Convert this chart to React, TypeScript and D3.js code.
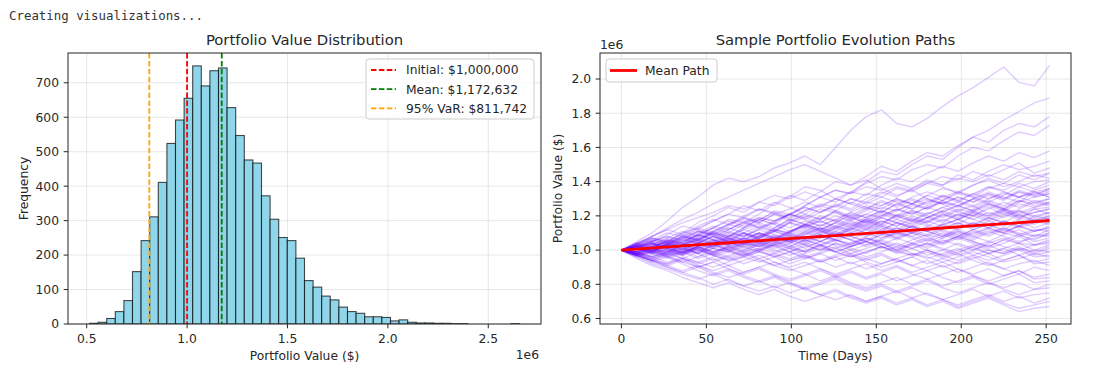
import React from "react";
import * as d3 from "d3";

// ---------- Histogram data ----------
const HIST_MIN = 514000;
const HIST_MAX = 2655500;
const HIST_COUNTS = [2,5,16,36,68,152,242,311,411,524,592,655,749,691,735,743,628,547,476,467,372,304,251,242,191,126,107,81,70,49,36,31,21,21,19,9,12,5,3,3,2,2,1,1,0,0,0,0,0,1];
const HIST_XTICKS = [0.5, 1.0, 1.5, 2.0, 2.5];
const HIST_YTICKS = [0, 100, 200, 300, 400, 500, 600, 700];
const REF_LINES = [
  { label: "Initial: $1,000,000", value: 1000000, color: "#ff0000" },
  { label: "Mean: $1,172,632", value: 1172632, color: "#008000" },
  { label: "95% VaR: $811,742", value: 811742, color: "#ffa500" },
];

// ---------- Paths data (percent of initial value) ----------
const PATH_DAYS = [0,9,18,27,36,45,54,63,72,81,90,99,108,117,126,135,144,153,162,171,180,189,198,207,216,225,234,243,252];
const PATHS: number[][] = [
  [100,105,110,117,125,131,138,142,140,143,148,151,155,150,160,170,178,182,174,172,177,184,190,195,201,207,198,196,208],
  [100,102,99,104,108,106,111,115,113,118,122,120,126,131,135,133,140,146,144,150,155,153,160,166,170,176,181,186,189],
  [100,97,101,106,104,109,113,118,116,121,127,132,129,134,140,138,143,149,146,152,157,155,161,166,163,170,174,172,178],
  [100,103,107,105,110,116,120,125,122,128,126,131,137,135,130,134,139,143,141,147,150,148,155,160,158,164,169,167,173],
  [100,98,103,101,106,111,109,114,119,117,123,121,126,131,128,134,132,138,142,140,145,149,146,151,155,152,157,154,158],
  [100,104,101,97,100,105,110,108,113,118,115,121,125,122,127,124,130,134,131,136,140,138,144,141,146,150,147,149,152],
  [100,101,105,109,114,112,117,121,119,124,122,118,123,127,125,130,128,133,137,135,139,143,141,146,143,147,151,145,148],
  [100,96,99,103,100,96,101,105,109,107,112,110,115,119,117,122,126,124,129,127,132,136,134,138,142,139,144,141,145],
  [100,103,106,110,108,113,117,121,126,123,128,125,121,126,130,127,133,131,136,134,139,137,133,138,141,137,140,144,142],
  [100,98,95,99,103,107,105,110,108,113,111,116,114,118,122,119,124,128,125,129,126,131,134,132,137,135,139,136,140],
  [100,102,105,103,108,106,111,115,119,116,121,124,128,125,130,127,124,129,126,131,134,131,128,133,137,134,131,135,138],
  [100,99,102,99,103,106,104,108,112,109,106,110,114,117,113,118,121,119,123,127,124,129,126,130,133,130,134,132,136],
  [100,101,98,102,105,109,113,110,115,119,117,121,118,122,126,130,127,131,128,124,128,132,129,133,130,134,131,133,135],
  [100,103,100,104,108,105,102,106,110,114,111,116,119,116,120,117,121,125,123,127,130,127,131,128,132,129,134,131,133],
  [100,97,100,104,102,98,102,106,104,108,112,109,113,117,114,119,116,120,124,121,125,128,126,130,127,124,128,134,131],
  [100,102,106,103,107,111,108,104,108,112,116,113,117,114,118,122,119,123,120,117,121,125,128,125,129,126,131,128,130],
  [100,99,96,100,97,101,105,109,106,110,107,111,115,112,116,120,117,121,118,122,119,123,126,123,127,124,129,126,128],
  [100,104,108,112,109,114,118,115,120,124,121,117,121,118,123,119,116,120,124,121,125,122,126,123,127,124,122,125,127],
  [100,98,101,105,103,107,104,101,105,102,106,110,107,111,108,113,117,114,118,115,119,122,119,123,120,124,121,124,125],
  [100,101,104,101,98,102,106,103,107,110,107,111,114,111,108,112,115,119,116,120,117,121,118,122,119,123,120,122,124],
  [100,102,99,103,107,104,108,112,116,113,117,121,118,114,118,115,119,116,120,123,120,117,121,118,122,119,123,120,122],
  [100,97,94,98,95,99,103,100,104,108,105,109,106,110,114,111,115,112,116,113,117,114,118,121,118,122,119,117,120],
  [100,103,107,104,101,105,102,106,103,107,111,108,112,109,113,116,113,117,114,118,115,112,116,113,117,114,118,115,119],
  [100,99,103,107,111,108,113,117,114,118,115,111,115,112,108,112,116,113,110,114,111,115,118,115,119,116,113,116,117],
  [100,101,98,95,98,102,99,103,100,104,108,105,109,112,109,113,110,114,111,108,112,115,112,116,113,117,114,118,116],
  [100,102,105,108,105,109,106,103,107,104,108,105,101,105,109,106,110,107,111,114,111,108,112,109,113,110,114,111,114],
  [100,98,101,98,102,99,103,107,104,100,104,108,105,109,106,102,106,110,107,111,108,104,108,112,109,113,110,108,112],
  [100,103,100,104,108,112,109,113,110,106,103,107,104,108,105,109,112,109,113,110,106,110,107,111,108,112,109,106,110],
  [100,97,100,96,99,95,98,102,99,103,107,104,108,105,109,106,102,106,110,107,103,107,110,107,111,108,105,107,109],
  [100,101,104,100,97,101,98,102,105,102,106,103,99,103,106,103,107,104,100,104,107,104,108,105,102,106,109,105,107],
  [100,102,99,102,98,101,104,100,97,100,96,99,103,100,104,101,98,102,99,103,106,103,107,104,101,104,108,103,105],
  [100,98,95,98,101,98,94,97,100,103,99,102,106,103,99,102,105,101,104,101,97,100,104,101,98,101,104,100,103],
  [100,99,102,105,102,106,109,105,101,104,100,97,100,103,99,102,105,102,98,101,104,100,97,100,103,99,102,98,101],
  [100,102,105,101,98,101,97,94,97,100,103,99,96,99,102,98,101,104,100,97,100,96,99,102,98,101,97,100,99],
  [100,97,99,96,93,96,99,102,99,95,98,101,97,94,97,100,96,99,102,98,95,98,101,97,94,97,100,96,97],
  [100,101,98,101,104,101,97,100,96,93,96,99,95,98,101,97,94,97,93,96,99,95,92,95,98,94,97,93,95],
  [100,98,96,93,96,93,90,93,96,99,96,92,95,98,94,97,93,90,93,96,92,95,98,94,91,94,97,92,93],
  [100,102,99,96,99,102,98,95,98,94,91,94,97,93,96,92,95,98,94,91,94,90,93,96,92,89,92,94,91],
  [100,97,94,97,93,90,93,96,92,95,91,88,91,94,90,93,89,92,95,91,88,91,87,90,93,89,86,90,88],
  [100,99,96,99,95,92,95,91,94,97,93,90,93,89,86,89,92,88,91,87,90,93,89,86,89,85,88,84,86],
  [100,98,95,92,95,91,88,91,87,90,93,89,86,89,85,88,84,87,90,86,83,86,89,85,82,85,88,83,84],
  [100,97,94,91,94,90,93,89,86,89,85,82,85,88,84,87,83,86,82,85,88,84,81,84,80,83,86,81,82],
  [100,98,94,91,88,91,87,84,87,90,86,83,86,82,85,81,78,81,84,80,83,79,82,85,81,78,81,77,80],
  [100,96,93,90,87,90,86,89,85,82,85,81,78,81,84,80,77,80,76,79,82,78,75,78,81,77,74,77,78],
  [100,97,93,96,92,88,85,88,84,81,84,80,77,80,83,79,76,79,75,78,74,71,74,77,73,76,72,74,75],
  [100,96,92,89,86,83,86,82,79,82,78,81,77,74,77,73,70,73,76,72,75,71,68,71,74,70,73,69,72],
  [100,97,94,90,87,84,80,83,79,76,79,75,78,74,71,74,70,73,69,72,68,71,67,70,73,69,66,68,70],
  [100,95,91,88,84,81,78,81,77,74,77,73,70,73,76,72,69,72,68,71,67,70,66,69,72,68,64,66,67],
  [100,103,101,106,104,109,107,112,117,113,116,121,119,124,122,118,123,126,130,127,125,129,133,131,128,132,137,134,136],
  [100,99,104,102,107,111,109,106,110,108,113,118,115,112,116,121,119,123,120,126,124,128,125,130,134,131,128,131,133],
  [100,102,100,97,101,104,102,107,105,110,108,106,111,115,112,117,114,119,116,114,119,123,120,124,128,125,129,127,130],
  [100,104,102,105,109,106,110,107,103,108,112,110,115,113,109,114,118,115,121,118,116,120,124,122,126,123,127,125,128],
  [100,101,99,103,101,98,103,107,104,109,106,111,114,111,116,113,118,115,120,117,122,119,123,120,125,121,124,128,126],
  [100,98,102,105,103,108,106,102,106,110,107,105,110,113,111,115,112,117,114,119,116,121,118,122,120,123,119,122,124],
  [100,103,106,104,100,104,108,105,110,107,111,116,113,110,114,112,117,114,111,116,119,116,121,118,115,120,123,119,122],
  [100,99,101,98,103,100,104,108,106,103,107,105,109,113,110,108,112,115,112,117,114,118,115,120,117,121,118,124,121],
  [100,102,104,101,105,109,106,111,108,112,109,107,111,108,113,110,114,111,116,113,111,115,118,114,119,116,121,117,119],
  [100,97,99,103,100,104,101,99,103,106,104,109,106,103,107,110,108,112,109,114,111,108,113,116,113,117,114,120,118],
  [100,101,104,102,99,102,106,104,107,105,102,106,110,107,111,108,105,109,113,110,114,111,108,112,115,112,117,113,116],
  [100,103,100,104,102,106,103,108,110,107,111,108,105,109,106,110,113,110,108,112,109,113,116,112,115,111,114,117,115],
  [100,98,101,99,103,106,103,100,104,107,105,102,106,109,106,104,108,111,107,110,113,109,106,110,113,110,108,111,113],
  [100,102,99,103,106,104,108,105,102,105,109,106,103,107,110,108,105,109,106,110,108,112,109,106,110,113,109,112,111],
  [100,101,103,100,98,102,105,103,107,104,101,104,108,105,109,106,103,107,110,108,105,108,111,108,105,109,112,108,110],
  [100,99,97,101,99,103,101,104,102,99,103,106,103,100,104,102,105,103,107,104,101,105,108,105,102,106,104,109,108],
  [100,101,98,100,103,100,97,101,104,102,105,102,99,103,101,104,107,104,101,104,102,106,103,100,104,107,104,103,106],
  [100,98,100,103,101,98,101,99,102,105,102,99,102,105,103,100,103,106,103,101,104,101,98,102,105,102,100,103,104],
  [100,102,100,97,99,102,99,101,98,101,104,101,99,102,99,96,99,102,100,103,100,97,100,103,100,98,101,99,102],
  [100,100,103,107,104,108,111,108,113,116,113,118,115,120,117,114,118,122,119,123,121,125,122,120,124,128,125,129,127],
  [100,104,107,105,110,113,110,115,118,116,121,119,123,126,123,128,125,122,127,130,127,132,129,126,130,133,131,134,131],
  [100,99,102,106,103,107,110,107,112,115,112,117,120,118,123,120,125,122,127,124,129,127,131,128,133,130,135,132,134],
  [100,102,104,101,99,102,99,96,99,101,98,95,98,101,99,96,99,102,99,97,100,97,94,97,100,98,101,97,99],
  [100,98,96,99,97,100,97,94,96,99,97,94,96,93,96,98,95,92,95,98,96,93,96,99,96,93,95,98,96],
  [100,97,94,92,95,93,96,99,97,100,103,101,104,102,106,103,107,105,102,106,109,107,111,108,112,110,114,111,113],
  [100,102,105,108,106,110,114,112,116,119,117,121,125,122,126,123,128,126,130,127,132,129,134,131,136,139,137,140,141],
  [100,104,108,112,116,119,122,126,124,128,132,130,134,131,135,133,137,135,139,136,141,138,142,140,144,141,146,143,145],
  [100,103,108,113,118,122,127,131,135,139,143,147,150,146,142,138,141,136,132,135,130,127,123,126,121,124,120,118,120],
];
const MEAN_DAYS = [0,21,42,63,84,105,126,147,168,189,210,231,252];
const MEAN_VALUES = [100.0,101.4,102.9,104.3,105.7,107.1,108.5,109.9,111.4,112.9,114.4,115.8,117.3];
const PATH_XTICKS = [0, 50, 100, 150, 200, 250];
const PATH_YTICKS = [0.6, 0.8, 1.0, 1.2, 1.4, 1.6, 1.8, 2.0];

const FONT = "DejaVu Sans, Verdana, sans-serif";
const TXT = "#262626";
const FS = 12.3;
const TICK = 4.3;

const L = { x0: 68, x1: 541, y0: 53, y1: 324 };
const R = { x0: 600, x1: 1071, y0: 53, y1: 324 };

function pad(lo: number, hi: number): [number, number] {
  const s = hi - lo;
  return [lo - 0.05 * s, hi + 0.05 * s];
}

export default function App() {
  // Histogram scales
  const xH = d3.scaleLinear().domain(pad(HIST_MIN, HIST_MAX)).range([L.x0, L.x1]);
  const maxCount = d3.max(HIST_COUNTS) as number;
  const yH = d3.scaleLinear().domain([0, maxCount * 1.05]).range([L.y1, L.y0]);
  const binW = (HIST_MAX - HIST_MIN) / HIST_COUNTS.length;

  // Paths scales
  const allVals = PATHS.flat().map((v) => v * 10000);
  const xP = d3.scaleLinear().domain(pad(0, 252)).range([R.x0, R.x1]);
  const yP = d3
    .scaleLinear()
    .domain(pad(d3.min(allVals) as number, d3.max(allVals) as number))
    .range([R.y1, R.y0]);
  const line = d3
    .line<[number, number]>()
    .x((d) => xP(d[0]))
    .y((d) => yP(d[1]));

  const dash = "5.5 2.4";

  return (
    <svg
      width={1094}
      height={369}
      style={{ position: "absolute", left: 0, top: 0, background: "#fff" }}
      fontFamily={FONT}
    >
      <text x={9} y={20} fontFamily="DejaVu Sans Mono, monospace" fontSize={12.4} fill="#333">
        Creating visualizations...
      </text>

      <defs>
        <clipPath id="clipL">
          <rect x={L.x0} y={L.y0} width={L.x1 - L.x0} height={L.y1 - L.y0} />
        </clipPath>
        <clipPath id="clipR">
          <rect x={R.x0} y={R.y0} width={R.x1 - R.x0} height={R.y1 - R.y0} />
        </clipPath>
      </defs>

      {/* ================= LEFT: histogram ================= */}
      <g>
        {HIST_XTICKS.map((t) => (
          <line key={"gx" + t} x1={xH(t * 1e6)} x2={xH(t * 1e6)} y1={L.y0} y2={L.y1} stroke="#b0b0b0" strokeOpacity={0.3} strokeWidth={1} />
        ))}
        {HIST_YTICKS.map((t) => (
          <line key={"gy" + t} x1={L.x0} x2={L.x1} y1={yH(t)} y2={yH(t)} stroke="#b0b0b0" strokeOpacity={0.3} strokeWidth={1} />
        ))}
        <g clipPath="url(#clipL)">
          {HIST_COUNTS.map((c, i) => {
            if (c === 0) return null;
            const a = HIST_MIN + i * binW;
            return (
              <rect
                key={"b" + i}
                x={xH(a)}
                width={xH(a + binW) - xH(a)}
                y={yH(c)}
                height={yH(0) - yH(c)}
                fill="#8fd6ea"
                stroke="#000"
                strokeOpacity={0.7}
                strokeWidth={1.1}
              />
            );
          })}
          {REF_LINES.map((r) => (
            <line key={r.label} x1={xH(r.value)} x2={xH(r.value)} y1={L.y0} y2={L.y1} stroke={r.color} strokeWidth={1.8} strokeDasharray={dash} />
          ))}
        </g>
        <rect x={L.x0} y={L.y0} width={L.x1 - L.x0} height={L.y1 - L.y0} fill="none" stroke="#262626" strokeWidth={1} />
        {HIST_XTICKS.map((t) => (
          <g key={"tx" + t}>
            <line x1={xH(t * 1e6)} x2={xH(t * 1e6)} y1={L.y1} y2={L.y1 + TICK} stroke="#262626" />
            <text x={xH(t * 1e6)} y={L.y1 + 18.5} fontSize={FS} textAnchor="middle" fill={TXT}>
              {t.toFixed(1)}
            </text>
          </g>
        ))}
        {HIST_YTICKS.map((t) => (
          <g key={"ty" + t}>
            <line x1={L.x0 - TICK} x2={L.x0} y1={yH(t)} y2={yH(t)} stroke="#262626" />
            <text x={L.x0 - 9} y={yH(t) + 4.4} fontSize={FS} textAnchor="end" fill={TXT}>
              {t}
            </text>
          </g>
        ))}
        <text x={(L.x0 + L.x1) / 2} y={45} fontSize={14.8} textAnchor="middle" fill={TXT}>
          Portfolio Value Distribution
        </text>
        <text x={(L.x0 + L.x1) / 2} y={360} fontSize={FS} textAnchor="middle" fill={TXT}>
          Portfolio Value ($)
        </text>
        <text x={539} y={358.5} fontSize={FS} textAnchor="end" fill={TXT}>
          1e6
        </text>
        <text transform={`translate(27.5,${(L.y0 + L.y1) / 2}) rotate(-90)`} fontSize={FS} textAnchor="middle" fill={TXT}>
          Frequency
        </text>
        <rect x={366} y={59} width={168} height={60} rx={3} fill="#fff" fillOpacity={0.8} stroke="#cccccc" strokeWidth={1} />
        {REF_LINES.map((r, i) => (
          <g key={"lg" + i}>
            <line x1={371} x2={396} y1={70 + i * 19.2} y2={70 + i * 19.2} stroke={r.color} strokeWidth={1.8} strokeDasharray={dash} />
            <text x={406} y={70 + i * 19.2 + 4.4} fontSize={FS} fill={TXT}>
              {r.label}
            </text>
          </g>
        ))}
      </g>

      {/* ================= RIGHT: paths ================= */}
      <g>
        {PATH_XTICKS.map((t) => (
          <line key={"pgx" + t} x1={xP(t)} x2={xP(t)} y1={R.y0} y2={R.y1} stroke="#b0b0b0" strokeOpacity={0.3} strokeWidth={1} />
        ))}
        {PATH_YTICKS.map((t) => (
          <line key={"pgy" + t} x1={R.x0} x2={R.x1} y1={yP(t * 1e6)} y2={yP(t * 1e6)} stroke="#b0b0b0" strokeOpacity={0.3} strokeWidth={1} />
        ))}
        <g clipPath="url(#clipR)">
          {PATHS.map((p, i) => (
            <path
              key={"p" + i}
              d={line(p.map((v, j) => [PATH_DAYS[j], v * 10000] as [number, number])) || ""}
              fill="none"
              stroke="#6400ff"
              strokeOpacity={0.2}
              strokeWidth={1.4}
              strokeLinejoin="round"
            />
          ))}
          <path
            d={line(MEAN_VALUES.map((v, j) => [MEAN_DAYS[j], v * 10000] as [number, number])) || ""}
            fill="none"
            stroke="#ff0000"
            strokeWidth={2.8}
          />
        </g>
        <rect x={R.x0} y={R.y0} width={R.x1 - R.x0} height={R.y1 - R.y0} fill="none" stroke="#262626" strokeWidth={1} />
        {PATH_XTICKS.map((t) => (
          <g key={"ptx" + t}>
            <line x1={xP(t)} x2={xP(t)} y1={R.y1} y2={R.y1 + TICK} stroke="#262626" />
            <text x={xP(t)} y={R.y1 + 18.5} fontSize={FS} textAnchor="middle" fill={TXT}>
              {t}
            </text>
          </g>
        ))}
        {PATH_YTICKS.map((t) => (
          <g key={"pty" + t}>
            <line x1={R.x0 - TICK} x2={R.x0} y1={yP(t * 1e6)} y2={yP(t * 1e6)} stroke="#262626" />
            <text x={R.x0 - 9} y={yP(t * 1e6) + 4.4} fontSize={FS} textAnchor="end" fill={TXT}>
              {t.toFixed(1)}
            </text>
          </g>
        ))}
        <text x={(R.x0 + R.x1) / 2} y={45} fontSize={14.8} textAnchor="middle" fill={TXT}>
          Sample Portfolio Evolution Paths
        </text>
        <text x={(R.x0 + R.x1) / 2} y={360} fontSize={FS} textAnchor="middle" fill={TXT}>
          Time (Days)
        </text>
        <text x={600} y={48.5} fontSize={FS} fill={TXT}>
          1e6
        </text>
        <text transform={`translate(562,${(R.y0 + R.y1) / 2}) rotate(-90)`} fontSize={FS} textAnchor="middle" fill={TXT}>
          Portfolio Value ($)
        </text>
        <rect x={606} y={59} width={111} height={23} rx={3} fill="#fff" fillOpacity={0.8} stroke="#cccccc" strokeWidth={1} />
        <line x1={610} x2={637} y1={70.5} y2={70.5} stroke="#ff0000" strokeWidth={2.8} />
        <text x={645} y={74.9} fontSize={FS} fill={TXT}>
          Mean Path
        </text>
      </g>
    </svg>
  );
}
